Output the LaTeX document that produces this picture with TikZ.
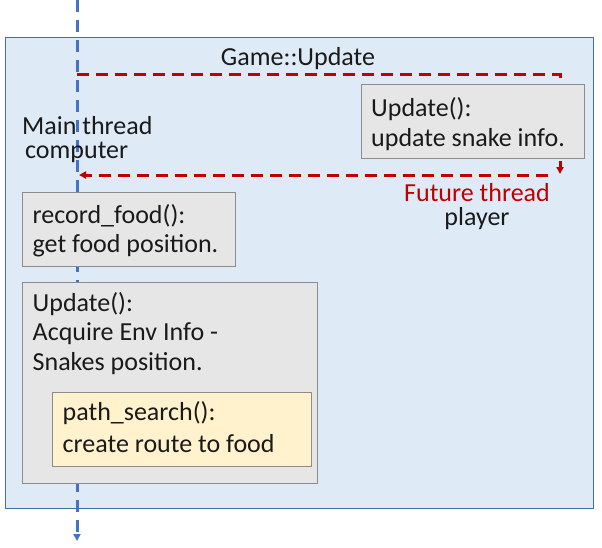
\documentclass[tikz,border=0pt]{standalone}
\usepackage{fontspec}
\setmainfont{Carlito}
\usetikzlibrary{arrows.meta}
\definecolor{framefill}{HTML}{DEEBF7}
\definecolor{framedraw}{HTML}{41719C}
\definecolor{bluel}{HTML}{4472C4}
\definecolor{redl}{HTML}{C00000}
\definecolor{grayfill}{HTML}{E7E6E6}
\definecolor{graydraw}{HTML}{8C8C8C}
\definecolor{yellowfill}{HTML}{FFF2CC}
\definecolor{txtc}{HTML}{1A1A1A}
\tikzset{
  box/.style={draw=graydraw, line width=0.8pt, fill=grayfill, anchor=north west, inner sep=0pt},
  ybox/.style={draw=graydraw, line width=0.8pt, fill=yellowfill, anchor=north west, inner sep=0pt},
  txt/.style={font=\fontsize{26}{30}\selectfont, text=txtc, inner sep=0pt, anchor=base west},
  ctxt/.style={txt, anchor=base},
  bluedash/.style={draw=bluel, line width=3pt, dash pattern=on 12pt off 8pt},
  reddash/.style={draw=redl, line width=3pt, dash pattern=on 12pt off 7pt},
  tip/.style={-{Triangle[length=7pt,width=7pt]}}
}
\begin{document}
\begin{tikzpicture}[x=1pt,y=-1pt]
\useasboundingbox (0,0) rectangle (602,547);
% frame
\node[draw=framedraw, line width=0.8pt, fill=framefill, anchor=north west, minimum width=588pt, minimum height=471pt, inner sep=0pt] (frame) at (5,37) {};
% thread coordinates
\coordinate (mtop) at (77,0);
\coordinate (mbot) at (77,541);
\coordinate (rstart) at (77,74);
\coordinate (rcorner) at (560,74);
\coordinate (rdown) at (560,174);
\coordinate (rback) at (548,175);
\coordinate (rend) at (79,175);
% blue main thread
\draw[bluedash, tip] (mtop) -- (mbot);
% red future thread
\draw[reddash, tip] (rstart) -- (rcorner) -- (rdown);
\draw[reddash, tip] (rback) -- (rend);
% labels
\node[ctxt] (title) at (298,65) {Game::Update};
\node[txt] (main1) at (22,134.5) {Main thread};
\node[txt] (main2) at (25,158.5) {computer};
\node[ctxt, text=redl] (fut1) at (477,201) {Future thread};
\node[ctxt] (fut2) at (477,225) {player};
% right update box
\node[box, minimum width=223pt, minimum height=74pt] (upd2) at (361,84) {};
\node[txt] (upd2a) at (371,116) {Update():};
\node[txt] (upd2b) at (371,146) {update snake info.};
% record_food box
\node[box, minimum width=213pt, minimum height=74pt] (rec) at (22,192) {};
\node[txt] (reca) at (32.5,223) {record\_food():};
\node[txt] (recb) at (32.5,252) {get food position.};
% update box
\node[box, minimum width=295pt, minimum height=201pt] (upd) at (22,282) {};
\node[txt] (upda) at (32.5,311) {Update():};
\node[txt] (updb) at (32.5,340) {Acquire Env Info -};
\node[txt] (updc) at (32.5,370) {Snakes position.};
% path_search box
\node[ybox, minimum width=259pt, minimum height=74pt] (ps) at (52,392) {};
\node[txt] (psa) at (62.5,420) {path\_search():};
\node[txt] (psb) at (62.5,452) {create route to food};
\end{tikzpicture}
\end{document}
